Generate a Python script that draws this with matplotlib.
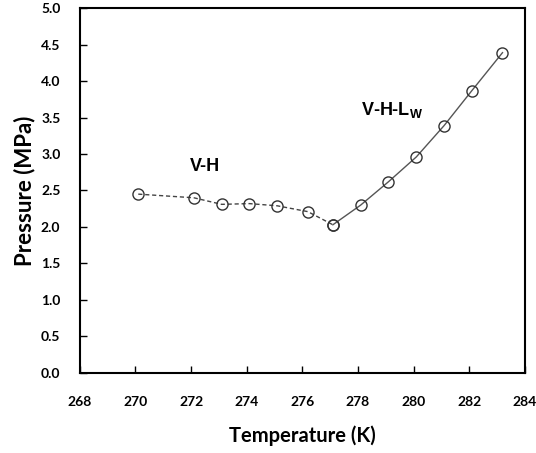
import matplotlib.pyplot as plt
import numpy as np

# Data
temp_vh = [270.1, 272.1, 273.1, 274.1, 275.1, 276.2, 277.1]
pres_vh = [2.45, 2.40, 2.31, 2.32, 2.29, 2.21, 2.03]

temp_vhlw = [277.1, 278.1, 279.1, 280.1, 281.1, 282.1, 283.2]
pres_vhlw = [2.03, 2.30, 2.62, 2.96, 3.39, 3.87, 4.39]

x_ticks = [268, 270, 272, 274, 276, 278, 280, 282, 284]
y_ticks = [0.0, 0.5, 1.0, 1.5, 2.0, 2.5, 3.0, 3.5, 4.0, 4.5, 5.0]

plt.rcParams['font.family'] = ['Lato', 'DejaVu Sans']

fig = plt.figure(figsize=(5.36, 4.53), dpi=100)
ax = fig.add_axes([0.149, 0.177, 0.830, 0.805])

ax.plot(temp_vh, pres_vh, linestyle=(0, (3, 2)), color='#444444', linewidth=1.0,
        marker='o', markersize=8, markerfacecolor='none', markeredgecolor='#333333',
        markeredgewidth=1.0)
ax.plot(temp_vhlw, pres_vhlw, linestyle='-', color='#555555', linewidth=1.0,
        marker='o', markersize=8, markerfacecolor='none', markeredgecolor='#333333',
        markeredgewidth=1.0)

# Region labels
ax.text(272.5, 2.83, "V-H", ha='center', va='center', fontsize=13,
        fontweight='bold', family='Liberation Sans')
ax.text(278.1, 3.6, r"V-H-L$_\mathregular{W}$", ha='left', va='center', fontsize=13,
        fontweight='bold', family='Liberation Sans')

ax.set_xlim(268, 284)
ax.set_ylim(0, 5)
ax.set_xticks(x_ticks)
ax.set_yticks(y_ticks)
ax.set_xticklabels([str(t) for t in x_ticks], fontsize=10, fontweight='bold')
ax.set_yticklabels([f"{v:.1f}" for v in y_ticks], fontsize=10, fontweight='bold')
ax.tick_params(axis='x', direction='in', length=5, width=1, pad=17)
ax.tick_params(axis='y', direction='in', length=5, width=1, pad=14)

for s in ax.spines.values():
    s.set_linewidth(1.5)
    s.set_color('black')

ax.set_xlabel("Temperature (K)", fontsize=14.5, fontweight='bold', labelpad=12)
ax.set_ylabel("Pressure (MPa)", fontsize=16, fontweight='bold', labelpad=4)

plt.savefig("out.png", dpi=100)
plt.close()
